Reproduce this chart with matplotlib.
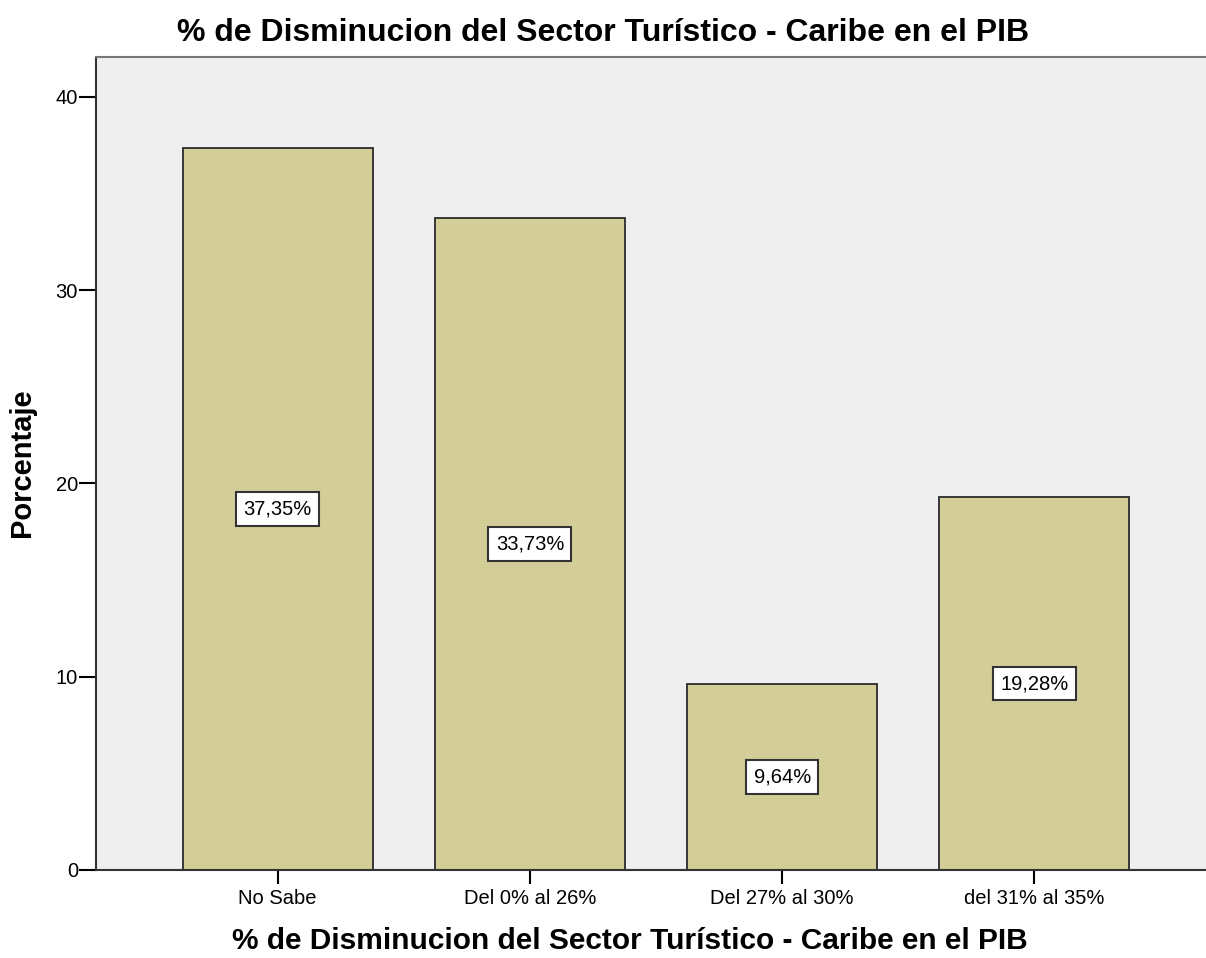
import matplotlib.pyplot as plt

categories = ["No Sabe", "Del 0% al 26%", "Del 27% al 30%", "del 31% al 35%"]
values = [37.35, 33.73, 9.64, 19.28]
labels = ["37,35%", "33,73%", "9,64%", "19,28%"]
title = "% de Disminucion del Sector Turístico - Caribe en el PIB"

plt.rcParams["font.family"] = ["Liberation Sans", "DejaVu Sans"]

fig = plt.figure(figsize=(12.06, 9.58), dpi=100)
ax = fig.add_axes([0.0796, 0.0919, 0.9204, 0.8486])
ax.set_facecolor("#efefef")

x = range(len(categories))
ax.bar(x, values, width=0.753, color="#d3ce97", edgecolor="#2b2b2b", linewidth=1.3)

for xi, v, lab in zip(x, values, labels):
    ax.text(xi, v / 2, lab, ha="center", va="center", fontsize=14.5,
            bbox=dict(boxstyle="square,pad=0.36", facecolor="white", edgecolor="#333333", linewidth=1.5))

ax.set_xlim(-0.72, 3.68)
ax.set_ylim(0, 42.06)
ax.set_xticks(list(x))
ax.set_xticklabels(categories, fontsize=14.5)
ax.set_yticks([0, 10, 20, 30, 40])
ax.tick_params(axis="y", length=12, width=1.5, labelsize=14.5, pad=1)
ax.tick_params(axis="x", length=10, width=1.5, pad=4)

for s in ["left", "top", "bottom"]:
    ax.spines[s].set_linewidth(1.5)
    ax.spines[s].set_color("#333333")
ax.spines["top"].set_color("#777777")
ax.spines["right"].set_visible(False)

fig.text(0.5, 1 - 33 / 958, title, ha="center", va="center", fontsize=23, fontweight="bold")
fig.text(630 / 1206, 1 - 941 / 958, title, ha="center", va="center", fontsize=21.5, fontweight="bold")
fig.text(22 / 1206, 1 - 463 / 958, "Porcentaje", ha="center", va="center", rotation=90,
         fontsize=21, fontweight="bold")

fig.savefig("out.png", dpi=100)
